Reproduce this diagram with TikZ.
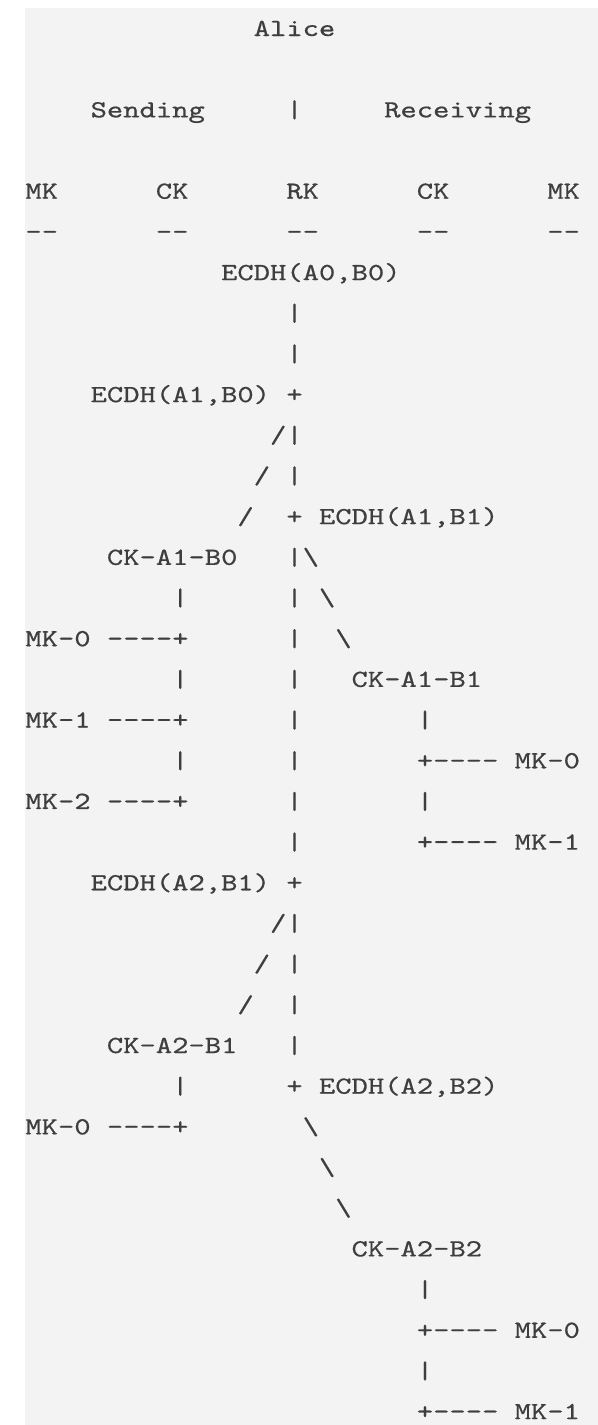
\documentclass[tikz,border=0pt]{standalone}
\usepackage{fontspec}
\usepackage{tikz}
\newfontfamily\asciifont{lmmono10-regular.otf}[FakeStretch=1.263,FakeBold=0.6]
\definecolor{panel}{RGB}{243,243,243}
\definecolor{ink}{RGB}{62,62,62}

\begin{document}
\begin{tikzpicture}[x=8.155pt,y=-20.34pt,every node/.style={Chars}]
	\tikzset{Chars/.style={anchor=base west,inner sep=0pt,text=ink,
		font=\fontsize{12.3}{14}\asciifont}}
	\useasboundingbox (-12.5pt,18pt) rectangle (286.5pt,-694.5pt);
	\fill[panel] (0pt,14pt) rectangle (286.5pt,-694.5pt);

	\node (Alice) at (14,0) {Alice};
	\node (Snd) at (4,2) {Sending};
	\node (Sep) at (16,2) {|};
	\node (Rcv) at (22,2) {Receiving};

	\node (MKs) at (0,4) {MK};
	\node (CKs) at (8,4) {CK};
	\node (RK) at (16,4) {RK};
	\node (CKr) at (24,4) {CK};
	\node (MKr) at (32,4) {MK};
	\node (MKsU) at (0,5) {--};
	\node (CKsU) at (8,5) {--};
	\node (RKU) at (16,5) {--};
	\node (CKrU) at (24,5) {--};
	\node (MKrU) at (32,5) {--};

	\node (AOBO) at (12,6) {ECDH(A0,B0)};
	\node (R7) at (16,7) {|};
	\node (R8) at (16,8) {|};
	\node (AIBO) at (4,9) {ECDH(A1,B0)};
	\node (P9) at (16,9) {+};
	\node (S10) at (15,10) {/};
	\node (R10) at (16,10) {|};
	\node (S11) at (14,11) {/};
	\node (R11) at (16,11) {|};
	\node (S12) at (13,12) {/};
	\node (P12) at (16,12) {+};
	\node (AIBI) at (18,12) {ECDH(A1,B1)};
	\node (CKAIBO) at (5,13) {CK-A1-B0};
	\node (R13) at (16,13) {|};
	\node (B13) at (17,13) {\textbackslash};
	\node (L14) at (9,14) {|};
	\node (R14) at (16,14) {|};
	\node (B14) at (18,14) {\textbackslash};
	\node (MK0a) at (0,15) {MK-0};
	\node (H15) at (5,15) {----+};
	\node (R15) at (16,15) {|};
	\node (B15) at (19,15) {\textbackslash};
	\node (L16) at (9,16) {|};
	\node (R16) at (16,16) {|};
	\node (CKAIBI) at (20,16) {CK-A1-B1};
	\node (MK1a) at (0,17) {MK-1};
	\node (H17) at (5,17) {----+};
	\node (R17) at (16,17) {|};
	\node (C17) at (24,17) {|};
	\node (L18) at (9,18) {|};
	\node (R18) at (16,18) {|};
	\node (H18) at (24,18) {+----};
	\node (MK0b) at (30,18) {MK-0};
	\node (MK2a) at (0,19) {MK-2};
	\node (H19) at (5,19) {----+};
	\node (R19) at (16,19) {|};
	\node (C19) at (24,19) {|};
	\node (R20) at (16,20) {|};
	\node (H20) at (24,20) {+----};
	\node (MK1b) at (30,20) {MK-1};

	\node (AIIBI) at (4,21) {ECDH(A2,B1)};
	\node (P21) at (16,21) {+};
	\node (S22) at (15,22) {/};
	\node (R22) at (16,22) {|};
	\node (S23) at (14,23) {/};
	\node (R23) at (16,23) {|};
	\node (S24) at (13,24) {/};
	\node (R24) at (16,24) {|};
	\node (CKAIIBI) at (5,25) {CK-A2-B1};
	\node (R25) at (16,25) {|};
	\node (L26) at (9,26) {|};
	\node (P26) at (16,26) {+};
	\node (AIIBII) at (18,26) {ECDH(A2,B2)};
	\node (MK0c) at (0,27) {MK-0};
	\node (H27) at (5,27) {----+};
	\node (B27) at (17,27) {\textbackslash};
	\node (B28) at (18,28) {\textbackslash};
	\node (B29) at (19,29) {\textbackslash};
	\node (CKAIIBII) at (20,30) {CK-A2-B2};
	\node (C31) at (24,31) {|};
	\node (H32) at (24,32) {+----};
	\node (MK0d) at (30,32) {MK-0};
	\node (C33) at (24,33) {|};
	\node (H34) at (24,34) {+----};
	\node (MK1d) at (30,34) {MK-1};
\end{tikzpicture}
\end{document}
